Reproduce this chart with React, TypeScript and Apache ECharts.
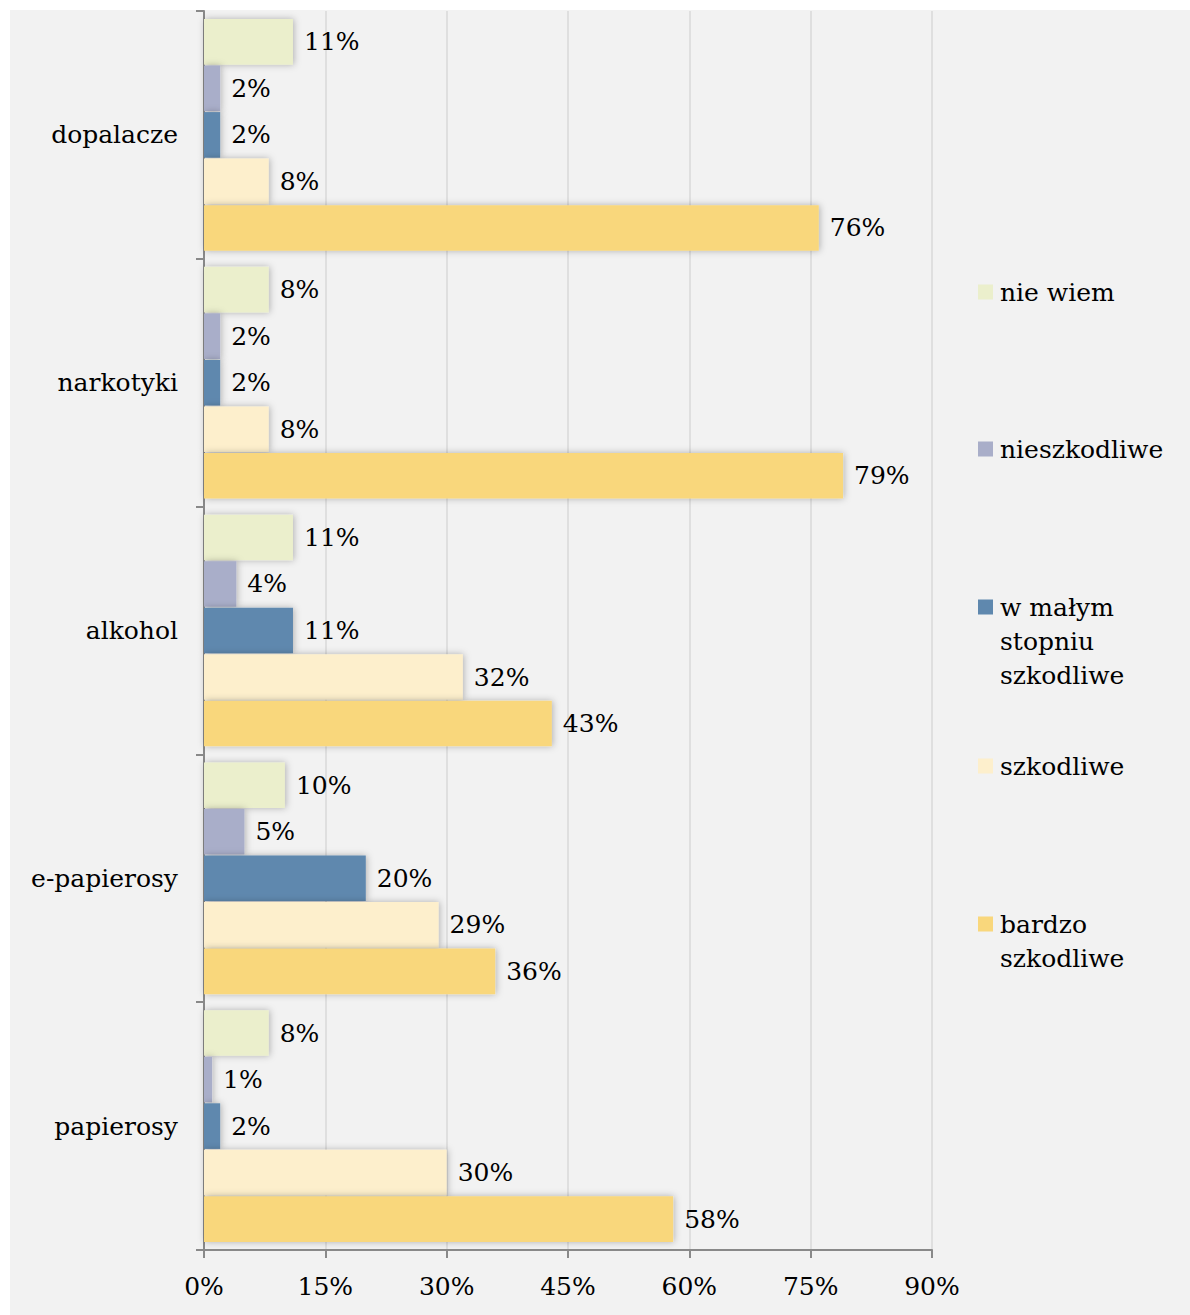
import React, { useEffect, useRef } from "react";
import * as echarts from "echarts";

const categories = ["dopalacze", "narkotyki", "alkohol", "e-papierosy", "papierosy"];
const seriesNames = ["nie wiem", "nieszkodliwe", "w małym stopniu szkodliwe", "szkodliwe", "bardzo szkodliwe"];
const legendLabels = ["nie wiem", "nieszkodliwe", "\n\nw małym\nstopniu\nszkodliwe", "szkodliwe", "\nbardzo\nszkodliwe"];
const nieWiem = [11, 8, 11, 10, 8];
const nieszkodliwe = [2, 2, 4, 5, 1];
const wMalymStopniu = [2, 2, 11, 20, 2];
const szkodliwe = [8, 8, 32, 29, 30];
const bardzoSzkodliwe = [76, 79, 43, 36, 58];
const seriesData = [nieWiem, nieszkodliwe, wMalymStopniu, szkodliwe, bardzoSzkodliwe];
const colors = ["#ebefcc", "#a9aec9", "#5f88ae", "#fdefcc", "#f9d77c"];

const FONT = "DejaVu Serif";
const LINE = 34;

export default function App() {
  const ref = useRef<HTMLDivElement>(null);
  useEffect(() => {
    if (!ref.current) return;
    const chart = echarts.init(ref.current, undefined, { renderer: "svg" });
    const legendTops = [265, 422, 512, 739, 863];
    const legends = seriesNames.map((name, i) => ({
      data: [name],
      orient: "vertical",
      left: 968,
      top: legendTops[i],
      padding: 0,
      icon: "rect",
      itemWidth: 15,
      itemHeight: 15,
      selectedMode: false,
      itemStyle: { shadowBlur: 0, shadowColor: "transparent" },
      formatter: () => legendLabels[i],
      textStyle: {
        fontFamily: FONT,
        fontSize: 25,
        color: "#000",
        lineHeight: LINE,
        padding: [0, 0, 0, 2],
      },
    }));
    chart.setOption({
      animation: false,
      backgroundColor: "#f2f2f2",
      textStyle: { fontFamily: FONT },
      grid: { left: 194, right: 258, top: 1, bottom: 65, containLabel: false },
      legend: legends,
      xAxis: {
        type: "value",
        min: 0,
        max: 90,
        interval: 15,
        axisLine: { show: true, lineStyle: { color: "#898989", width: 2 } },
        axisTick: { show: true, length: 8, lineStyle: { color: "#898989", width: 2 } },
        splitLine: { show: true, lineStyle: { color: "#d9d9d9", width: 1.5 } },
        axisLabel: {
          formatter: "{value}%",
          fontFamily: FONT,
          fontSize: 25,
          color: "#000",
          margin: 24,
        },
      },
      yAxis: {
        type: "category",
        inverse: true,
        data: categories,
        axisLine: { show: true, lineStyle: { color: "#898989", width: 2 } },
        axisTick: { show: true, length: 8, alignWithLabel: false, lineStyle: { color: "#898989", width: 2 } },
        axisLabel: {
          fontFamily: FONT,
          fontSize: 25,
          color: "#000",
          margin: 26,
        },
      },
      series: seriesNames.map((name, i) => ({
        name,
        type: "bar",
        data: seriesData[i],
        barCategoryGap: "6.5%",
        barGap: "2%",
        itemStyle: {
          color: colors[i],
          shadowBlur: 7,
          shadowColor: "rgba(0,0,0,0.28)",
          shadowOffsetX: 1,
          shadowOffsetY: 0,
        },
        label: {
          show: true,
          position: "right",
          distance: 11,
          formatter: "{c}%",
          fontFamily: FONT,
          fontSize: 25,
          color: "#000",
        },
      })),
    });
    return () => chart.dispose();
  }, []);
  return (
    <div
      ref={ref}
      style={{ position: "absolute", left: 10, top: 10, width: 1180, height: 1305 }}
    />
  );
}
